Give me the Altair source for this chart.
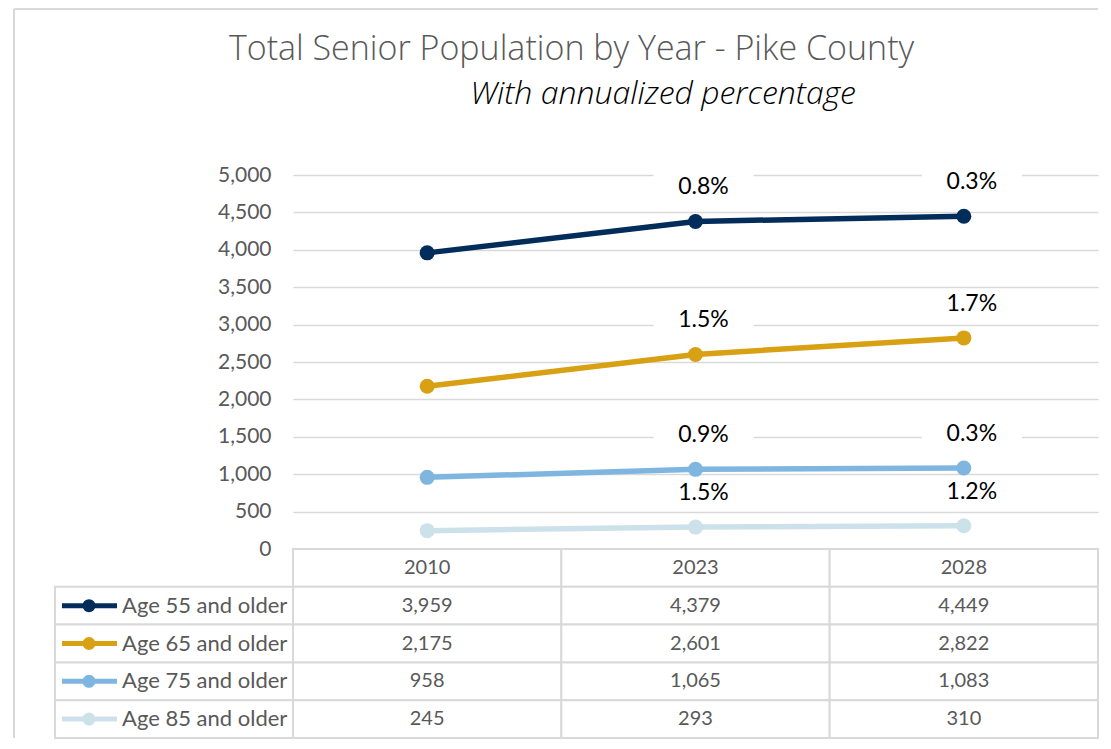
import altair as alt
import pandas as pd

# ---- data ----
years = ["2010", "2023", "2028"]
series = ["Age 55 and older", "Age 65 and older", "Age 75 and older", "Age 85 and older"]
age_55 = [3959, 4379, 4449]
age_65 = [2175, 2601, 2822]
age_75 = [958, 1065, 1083]
age_85 = [245, 293, 310]
pct_55 = [None, 0.8, 0.3]
pct_65 = [None, 1.5, 1.7]
pct_75 = [None, 0.9, 0.3]
pct_85 = [None, 1.5, 1.2]
y_ticks = [0, 500, 1000, 1500, 2000, 2500, 3000, 3500, 4000, 4500, 5000]

title_text = "Total Senior Population by Year - Pike County"
subtitle_text = "With annualized percentage"

# ---- styles ----
colors = ["#022D5A", "#D8A013", "#7FB6E0", "#CDE1EB"]
GRID = "#D9D9D9"
TEXT_GRAY = "#595959"
FONT = "Lato"
TITLE_FONT = "Open Sans"
PLOT_W = 805
LINE_H = 374
TABLE_BOTTOM = 563
header_row = "Year"
rows = [header_row] + series

records = []
for s, vals, pcts in zip(series, [age_55, age_65, age_75, age_85],
                         [pct_55, pct_65, pct_75, pct_85]):
    for yr, v, p in zip(years, vals, pcts):
        records.append({"year": yr, "series": s, "row": s, "value": v,
                        "pct": (p / 100.0) if p is not None else None})
df = pd.DataFrame(records)
header_df = pd.DataFrame({"year": years, "row": [header_row] * len(years)})
cells_df = pd.DataFrame([{"year": yr, "row": r} for yr in years for r in rows])
legend_df = pd.DataFrame({"row": series, "series": series})
one = pd.DataFrame({"label": [subtitle_text]})

x_enc = alt.X("year:N", scale=alt.Scale(domain=years, paddingInner=0, paddingOuter=0), axis=None)
y_line = alt.Y(
    "value:Q",
    scale=alt.Scale(domain=[0, 5000], range=[LINE_H, 0], nice=False),
    axis=alt.Axis(values=y_ticks, format=",.0f", grid=True, gridColor=GRID, gridWidth=1.6,
                  domain=False, ticks=False, tickSize=0, labelPadding=22,
                  labelFont=FONT, labelFontSize=21, labelColor=TEXT_GRAY, title=None),
)
color_enc = alt.Color("series:N", scale=alt.Scale(domain=series, range=colors), legend=None)
tab_scale = alt.Scale(domain=rows, range=[LINE_H, TABLE_BOTTOM], paddingInner=0, paddingOuter=0)
y_tab = alt.Y("row:N", scale=tab_scale, axis=None)
y_tab_c = alt.Y("row:N", scale=tab_scale, axis=None, bandPosition=0.5)

LX, LY = 8, -34
BOX = "M-1,-0.3L1,-0.3L1,0.3L-1,0.3Z"

lines = alt.Chart(df).mark_line(strokeWidth=5.5).encode(x=x_enc, y=y_line, color=color_enc)
boxes = (alt.Chart(df).transform_filter("isValid(datum.pct)")
         .mark_point(shape=BOX, size=10000, filled=True, color="white", opacity=1,
                     strokeWidth=0, xOffset=LX, yOffset=LY)
         .encode(x=x_enc, y=y_line))
points = alt.Chart(df).mark_circle(size=225, opacity=1).encode(x=x_enc, y=y_line, color=color_enc)
pct_labels = (alt.Chart(df).transform_filter("isValid(datum.pct)")
              .mark_text(font=FONT, fontSize=23, color="black", xOffset=LX, yOffset=LY)
              .encode(x=x_enc, y=y_line, text=alt.Text("pct:Q", format=".1%")))
line_group = alt.layer(lines, boxes, points, pct_labels)

cells = alt.Chart(cells_df).mark_rect(fill="white", stroke=GRID, strokeWidth=2).encode(x=x_enc, y=y_tab)
header_text = (alt.Chart(header_df).mark_text(font=FONT, fontSize=20, color=TEXT_GRAY)
               .encode(x=x_enc, y=y_tab, text="year:N"))
value_text = (alt.Chart(df).mark_text(font=FONT, fontSize=20, color=TEXT_GRAY)
              .encode(x=x_enc, y=y_tab, text=alt.Text("value:Q", format=",")))
leg_cells = (alt.Chart(legend_df).mark_rect(fill="white", stroke=GRID, strokeWidth=2)
             .encode(x=alt.value(-238), x2=alt.value(0), y=y_tab))
leg_rule = (alt.Chart(legend_df).mark_rule(strokeWidth=5)
            .encode(x=alt.value(-231), x2=alt.value(-176), y=y_tab_c, color=color_enc))
leg_dot = (alt.Chart(legend_df).mark_circle(size=169, opacity=1)
           .encode(x=alt.value(-204), y=y_tab, color=color_enc))
leg_text = (alt.Chart(legend_df).mark_text(align="left", font=FONT, fontSize=22, color=TEXT_GRAY)
            .encode(x=alt.value(-171), y=y_tab, text="row:N"))
frame_left = (alt.Chart(one).mark_rule(color=GRID, strokeWidth=2)
              .encode(x=alt.value(-279), y=alt.value(-166), y2=alt.value(TABLE_BOTTOM)))
frame_top = (alt.Chart(one).mark_rule(color=GRID, strokeWidth=2)
             .encode(x=alt.value(-279), x2=alt.value(PLOT_W), y=alt.value(-166)))
subtitle = (alt.Chart(one).mark_text(font=TITLE_FONT, fontSize=32, fontStyle="italic",
                                     fontWeight=300, color="black", align="center",
                                     baseline="middle")
            .encode(x=alt.value(370), y=alt.value(-81), text="label:N"))
table_group = alt.layer(frame_left, frame_top, subtitle, cells, header_text, value_text,
                        leg_cells, leg_rule, leg_dot, leg_text)

chart = (
    alt.layer(line_group, table_group)
    .resolve_scale(y="independent")
    .properties(
        width=PLOT_W,
        height=TABLE_BOTTOM,
        padding={"left": 5, "top": 0, "right": 0, "bottom": 0},
        background="white",
        title=alt.TitleParams(
            text=title_text,
            anchor="middle",
            frame="group",
            dx=-124,
            offset=-59,
            font=TITLE_FONT,
            fontSize=34,
            fontWeight=300,
            color=TEXT_GRAY,
        ),
    )
    .configure_view(strokeWidth=0)
)

chart.save("out.html", embed_options={"renderer": "svg", "actions": False})
